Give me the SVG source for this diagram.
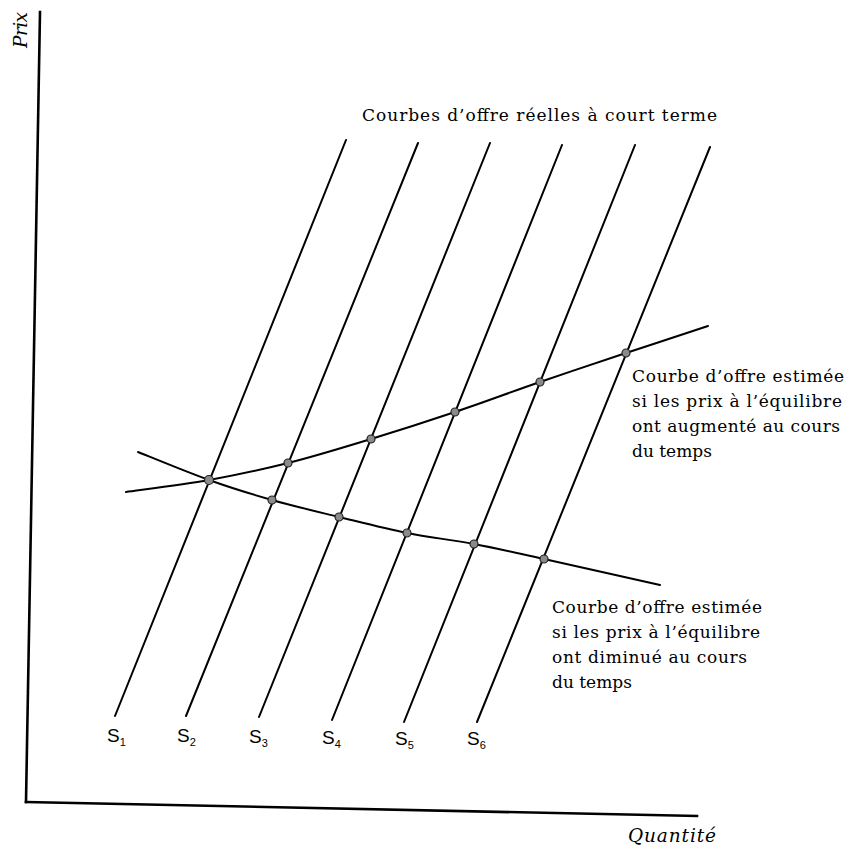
<svg xmlns="http://www.w3.org/2000/svg" width="846" height="847" viewBox="0 0 846 847">
<style>
.ax{stroke:#000;stroke-width:2.6;fill:none;stroke-linecap:square}
.ln{stroke:#000;stroke-width:2;fill:none;stroke-linecap:round}
.dot{fill:#8a8a8a;stroke:#222;stroke-width:1.2}
.t{font-family:"DejaVu Serif","Liberation Serif",serif;font-size:17px;fill:#000}
.it{font-family:"DejaVu Serif","Liberation Serif",serif;font-style:italic;font-size:18.5px;fill:#000}
.s{font-family:"Liberation Sans","DejaVu Sans",sans-serif;font-size:19px;fill:#000}
.sub{font-size:11px}
</style>
<rect width="846" height="847" fill="#fff"/>
<g id="axes">
<line class="ax" x1="40" y1="12" x2="26" y2="802"/>
<line class="ax" x1="26" y1="802" x2="697" y2="816"/>
<text class="it" transform="translate(27,48) rotate(-90)" textLength="36">Prix</text>
<text class="it" x="628" y="842" textLength="88">Quantité</text>
</g>
<g id="connectors">
<line id="S1line" class="ln" x1="346" y1="140" x2="115" y2="716"/>
<line id="S2line" class="ln" x1="418" y1="143" x2="186" y2="716"/>
<line id="S3line" class="ln" x1="490" y1="143" x2="259" y2="717"/>
<line id="S4line" class="ln" x1="562" y1="145" x2="332" y2="720"/>
<line id="S5line" class="ln" x1="635" y1="145" x2="404" y2="722"/>
<line id="S6line" class="ln" x1="710" y1="147" x2="477" y2="722"/>
<path id="up" class="ln" d="M126,492 C139.8,490 182,484.8 209,480 C236,475.2 261,469.8 288,463 C315,456.2 343.2,447.5 371,439 C398.8,430.5 426.8,421.5 455,412 C483.2,402.5 511.5,391.8 540,382 C568.5,372.2 598,362.3 626,353 C654,343.7 694.3,330.5 708,326"/>
<path id="down" class="ln" d="M138,452 C149.8,456.7 186.7,472 209,480 C231.3,488 250.3,493.8 272,500 C293.7,506.2 316.5,511.5 339,517 C361.5,522.5 384.5,528.5 407,533 C429.5,537.5 451.2,539.7 474,544 C496.8,548.3 513,552.2 544,559 C575,565.8 640.7,580.7 660,585"/>
</g>
<g id="dots">
<circle class="dot" cx="209" cy="480" r="4.5"/>
<circle class="dot" cx="288" cy="463" r="4"/>
<circle class="dot" cx="371" cy="439" r="4"/>
<circle class="dot" cx="455" cy="412" r="4"/>
<circle class="dot" cx="540" cy="382" r="4"/>
<circle class="dot" cx="626" cy="353" r="4"/>
<circle class="dot" cx="272" cy="500" r="4"/>
<circle class="dot" cx="339" cy="517" r="4"/>
<circle class="dot" cx="407" cy="533" r="4"/>
<circle class="dot" cx="474" cy="544" r="4"/>
<circle class="dot" cx="544" cy="559" r="4"/>
</g>
<g id="title">
<text class="t" x="362" y="121" textLength="355">Courbes d’offre réelles à court terme</text>
</g>
<g id="label-up">
<text class="t" x="632" y="382" textLength="212">Courbe d’offre estimée</text>
<text class="t" x="632" y="407" textLength="210">si les prix à l’équilibre</text>
<text class="t" x="632" y="432" textLength="208">ont augmenté au cours</text>
<text class="t" x="632" y="457">du temps</text>
</g>
<g id="label-down">
<text class="t" x="552" y="613" textLength="210">Courbe d’offre estimée</text>
<text class="t" x="552" y="638" textLength="208">si les prix à l’équilibre</text>
<text class="t" x="552" y="663" textLength="195">ont diminué au cours</text>
<text class="t" x="552" y="688">du temps</text>
</g>
<g id="s-labels">
<text class="s" x="107" y="742">S<tspan class="sub" dy="4">1</tspan></text>
<text class="s" x="177" y="742">S<tspan class="sub" dy="4">2</tspan></text>
<text class="s" x="249" y="743">S<tspan class="sub" dy="4">3</tspan></text>
<text class="s" x="322" y="744">S<tspan class="sub" dy="4">4</tspan></text>
<text class="s" x="395" y="745">S<tspan class="sub" dy="4">5</tspan></text>
<text class="s" x="467" y="745">S<tspan class="sub" dy="4">6</tspan></text>
</g>
</svg>
